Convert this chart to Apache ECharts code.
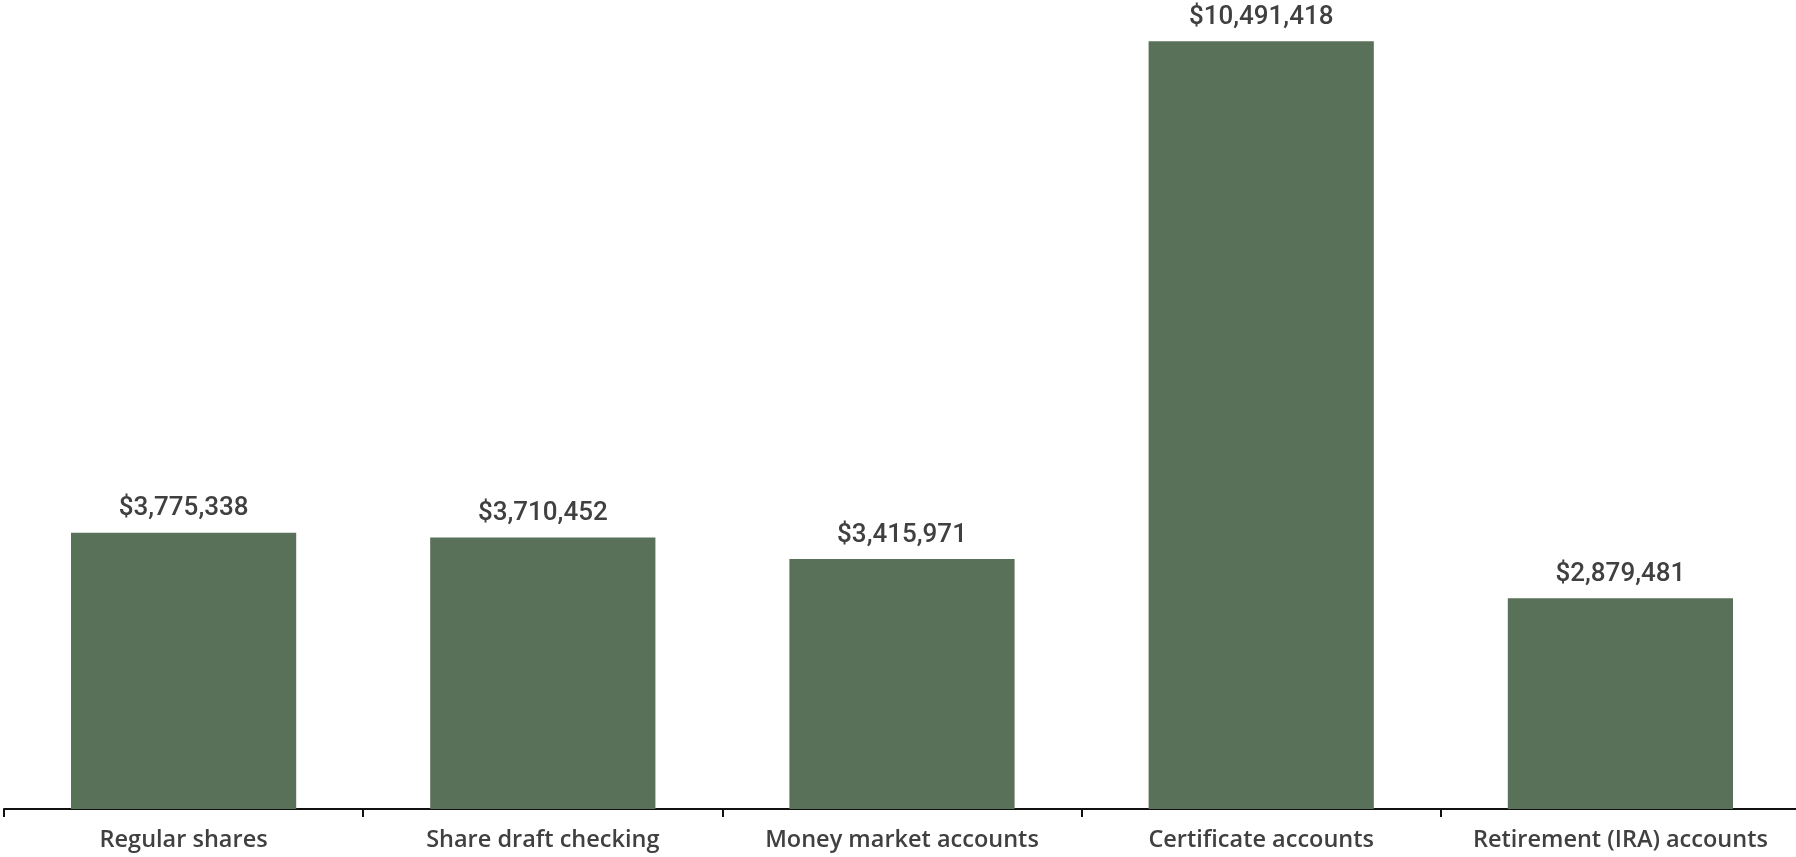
<!DOCTYPE html>
<html>
<head>
<meta charset="utf-8">
<script src="https://cdn.jsdelivr.net/npm/echarts@6/dist/echarts.min.js"></script>
<style>
html,body{margin:0;padding:0;background:#fff;}
#c{width:1796px;height:857px;}
</style>
</head>
<body>
<div id="c"></div>
<script>
const categories = ["Regular shares", "Share draft checking", "Money market accounts", "Certificate accounts", "Retirement (IRA) accounts"];
const values = [3775338, 3710452, 3415971, 10491418, 2879481];

const chart = echarts.init(document.getElementById('c'));
chart.setOption({
  animation: false,
  grid: { left: 4, right: -4, top: 4, bottom: 48, containLabel: false, outerBoundsMode: 'none' },
  xAxis: {
    type: 'category',
    data: categories,
    axisLine: { lineStyle: { color: '#111', width: 2 } },
    axisTick: { show: true, interval: 0, length: 8, lineStyle: { color: '#111', width: 2 } },
    axisLabel: { interval: 0, hideOverlap: false, color: '#404040', fontSize: 23.5, fontFamily: 'Open Sans', fontWeight: 600, margin: 19 }
  },
  yAxis: {
    type: 'value',
    min: 0,
    max: 11000000,
    show: false,
    splitLine: { show: false }
  },
  series: [{
    type: 'bar',
    data: values,
    barWidth: '62.7%',
    itemStyle: { color: '#5A7159' },
    label: {
      show: true,
      position: 'top',
      distance: 11,
      color: '#404040',
      fontSize: 26,
      fontFamily: 'Roboto',
      fontWeight: 500,
      formatter: p => '$' + p.value.toLocaleString('en-US')
    }
  }]
});
</script>
</body>
</html>
